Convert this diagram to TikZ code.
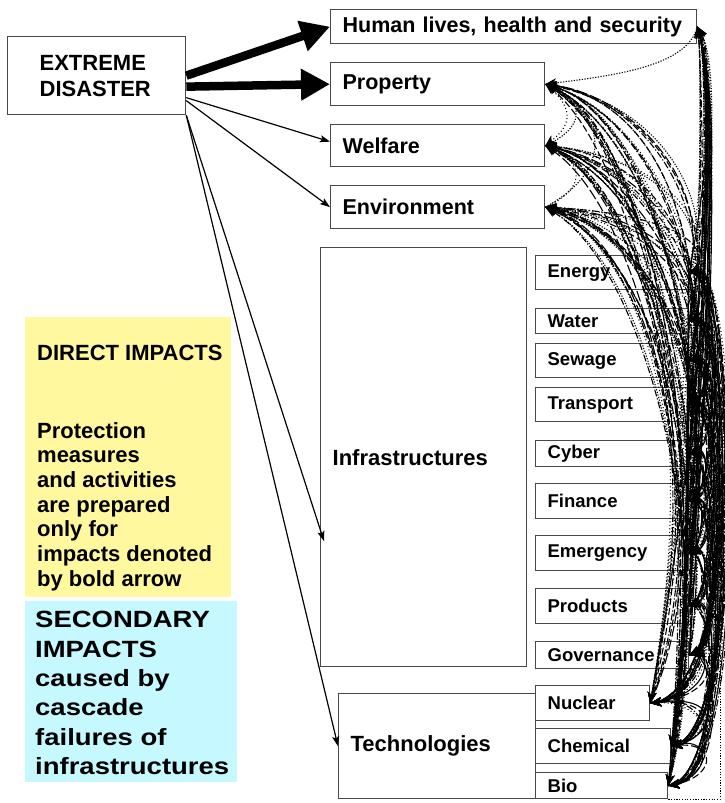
\documentclass[tikz,border=0pt]{standalone}
\usepackage{fontspec}
\setmainfont{Liberation Sans}
\newfontfamily\widesans{Liberation Sans}[FakeStretch=1.17]
\usetikzlibrary{arrows.meta,calc}

\definecolor{directbg}{RGB}{255,248,158}
\definecolor{cascadebg}{RGB}{198,248,255}
\definecolor{frameclr}{RGB}{72,72,72}

\tikzset{
  box/.style={draw=frameclr,line width=1.3pt,fill=white,anchor=north west,
    inner xsep=12pt,inner ysep=0pt,align=left,
    font=\bfseries\fontsize{21.5}{25}\selectfont},
  subbox/.style={box,font=\bfseries\fontsize{18.5}{21}\selectfont},
  heavy/.style={line width=8.5pt,-{Triangle[length=29pt,width=30pt]}},
  thinarrow/.style={line width=1.2pt,-{Stealth[length=10pt,width=7pt,inset=2pt]}},
  link/.style={line width=1.1pt,-{Stealth[length=11pt,width=9pt,inset=3pt]}},
  pat0/.style={dash pattern=on 1.2pt off 1.5pt},
  pat1/.style={dash pattern=on 7pt off 3pt},
  pat2/.style={dash pattern=on 1pt off 2.5pt},
  pat3/.style={dash pattern=on 11pt off 3pt},
  pat4/.style={dash pattern=on 7pt off 2pt on 1.2pt off 2pt},
  pat5/.style={},
}

% infrastructure and technology boxes: name / east x / east y
\def\srclist{energy/688/272, water/688/320.5, sewage/688/360, transport/688/404,
  cyber/688/453, finance/688/500.5, emergency/688/552.5, products/688/605.5,
  governance/688/654.5, nuclear/649/702.5, chemical/670/745.5, bio/667/785}

\begin{document}
\begin{tikzpicture}[x=1pt,y=-1pt]
\useasboundingbox (0,0) rectangle (724,803);

% legend panels
\node[fill=directbg,anchor=north west,inner sep=0,minimum width=206pt,minimum height=280pt] (directpanel) at (25,317) {};
\node[fill=cascadebg,anchor=north west,inner sep=0,minimum width=212pt,minimum height=181pt] (cascadepanel) at (25,601) {};
\node[anchor=north west,inner sep=0,font=\bfseries\fontsize{22}{24.7}\selectfont] (directhead) at (37,345) {DIRECT IMPACTS};
\node[anchor=north west,inner sep=0,align=left,font=\bfseries\fontsize{22}{24.7}\selectfont] (directtext) at (37,422)
  {Protection\\measures\\and activities\\are prepared\\only for\\impacts denoted\\by bold arrow};
\node[anchor=north west,inner sep=0,align=left,font=\widesans\bfseries\fontsize{23.5}{29.4}\selectfont] (cascadetext) at (35,611)
  {SECONDARY\\IMPACTS\\caused by\\cascade\\failures of\\infrastructures};

% cause
\node[box,inner xsep=32pt,text width=114pt,minimum height=78pt,font=\bfseries\fontsize{22}{26}\selectfont] (disaster) at (7,36) {EXTREME\\DISASTER};

% direct impact targets
\node[box,text width=342pt,minimum height=34pt] (hum) at (330,9) {Human lives, health and security};
\node[box,text width=190pt,minimum height=43pt] (prop) at (330,62) {Property};
\node[box,text width=190pt,minimum height=42pt] (welf) at (330,124) {Welfare};
\node[box,text width=190pt,minimum height=43pt] (env) at (330,185) {Environment};
\node[box,text width=182pt,minimum height=419pt,font=\bfseries\fontsize{22}{25}\selectfont] (infra) at (320,247) {Infrastructures};
\node[box,text width=173pt,minimum height=105pt,font=\bfseries\fontsize{22}{25}\selectfont] (techno) at (338,693) {Technologies};

% sectors
\node[subbox,text width=129pt,minimum height=34pt] (energy) at (535,255) {Energy};
\node[subbox,text width=129pt,minimum height=25pt] (water) at (535,308) {Water};
\node[subbox,text width=129pt,minimum height=34pt] (sewage) at (535,343) {Sewage};
\node[subbox,text width=129pt,minimum height=34pt] (transport) at (535,387) {Transport};
\node[subbox,text width=129pt,minimum height=26pt] (cyber) at (535,440) {Cyber};
\node[subbox,text width=129pt,minimum height=35pt] (finance) at (535,483) {Finance};
\node[subbox,text width=129pt,minimum height=35pt] (emergency) at (535,535) {Emergency};
\node[subbox,text width=129pt,minimum height=35pt] (products) at (535,588) {Products};
\node[subbox,text width=129pt,minimum height=27pt] (governance) at (535,641) {Governance};
\node[subbox,text width=90pt,minimum height=35pt] (nuclear) at (535,685) {Nuclear};
\node[subbox,text width=111pt,minimum height=35pt] (chemical) at (535,728) {Chemical};
\node[subbox,text width=108pt,minimum height=26pt] (bio) at (535,772) {Bio};

% direct impacts of the disaster
\draw[heavy] (disaster.east) -- (hum.west);
\draw[heavy] ($(disaster.east)+(0,11)$) -- (prop.west);
\draw[thinarrow] ($(disaster.east)+(0,22)$) -- ($(welf.west)+(0,-4)$);
\draw[thinarrow] ($(disaster.east)+(0,25)$) -- (env.west);
\draw[thinarrow] (disaster.south east) -- ($(infra.north west)!0.7!(infra.south west)+(4,0)$);
\draw[thinarrow] (disaster.south east) -- (techno.west);

% cascades from sectors back to property, welfare, environment
\foreach \s/\xs/\ys [count=\i] in \srclist {
  \foreach \t/\yt [count=\j] in {prop/83.5,welf/145,env/206.5} {
    \pgfmathtruncatemacro\k{mod(\i+2*\j,5)}
    \pgfmathtruncatemacro\kk{mod(\i+2*\j+2,5)}
    \pgfmathsetmacro\cax{700+mod(7*\i+5*\j,22)}
    \pgfmathsetmacro\cay{\ys-0.5*(\ys-\yt)}
    \pgfmathsetmacro\cbx{615+mod(11*\i+3*\j,50)}
    \pgfmathsetmacro\cby{\yt+0.06*(\ys-\yt)}
    \pgfmathsetmacro\cbbx{650+mod(13*\i+7*\j,40)}
    \pgfmathsetmacro\cbby{\yt+0.12*(\ys-\yt)}
    \draw[link,pat\k] (\s.east) .. controls (\cax,\cay) and (\cbx,\cby) .. (\t.east);
    \draw[link,pat\kk] (\s.east) .. controls (718,{\ys-0.3*(\ys-\yt)}) and (\cbbx,\cbby) .. (\t.east);
  }
}

% cascades between sectors
\foreach \s/\xs/\ys [count=\i] in \srclist {
  \foreach \t/\xt/\yt [count=\j] in \srclist {
    \ifnum\i=\j\else
      \pgfmathtruncatemacro\k{mod(\i*5+\j,6)}
      \pgfmathsetmacro\bx{min(745,697+2.5*abs(\i-\j)+mod(\i*3,7))}
      \pgfmathsetmacro\ba{(\bx-\xs)*1.33}
      \pgfmathsetmacro\bb{(\bx-\xt)*1.33}
      \draw[link,pat\k] (\s.east) .. controls +(\ba,-8) and +(\bb,-10) .. (\t.east);
    \fi
  }
}

% cascades up to human lives
\foreach \s/\xs/\ys [count=\i] in \srclist {
  \pgfmathtruncatemacro\k{mod(\i,3)*2}
  \pgfmathsetmacro\cx{702+mod(5*\i,20)}
  \pgfmathsetmacro\cy{\ys*0.45+20}
  \draw[link,pat\k] (\s.east) .. controls (\cx,\cy) and (\cx,60) .. (hum.east);
  \draw[link,pat5] (\s.east) .. controls ({\cx+6},\cy) and (712,80) .. (hum.east);
}

% cascades down into the technologies
\foreach \s in {energy,water,sewage,transport,cyber} {
  \foreach \t/\pp in {nuclear/pat2,chemical/pat1,bio/pat3} {
    \draw[link,\pp] (\s.east) .. controls +(-4,90) and +(22,-130) .. (\t.east);
  }
}

% links among the direct impacts
\draw[link,pat0] (hum.east) .. controls (688,65) and (620,75) .. (prop.east);
\draw[link,pat0] (welf.east) .. controls +(40,-18) and +(40,18) .. (prop.east);
\draw[link,pat2] (prop.east) .. controls +(28,22) and +(28,-22) .. (welf.east);
\draw[link,pat2] (env.east) .. controls +(40,-18) and +(40,18) .. (welf.east);
\draw[link,pat0] (env.east) .. controls +(65,-35) and +(65,35) .. (prop.east);
\draw[link,pat1] (bio.east) .. controls (706,600) and (706,100) .. (hum.east);

% dotted return loop from the biological sector
\coordinate (bioloop) at (720,655);
\draw[line width=0.8pt,pat0] (bio.south east) -| (bioloop);
\end{tikzpicture}
\end{document}
